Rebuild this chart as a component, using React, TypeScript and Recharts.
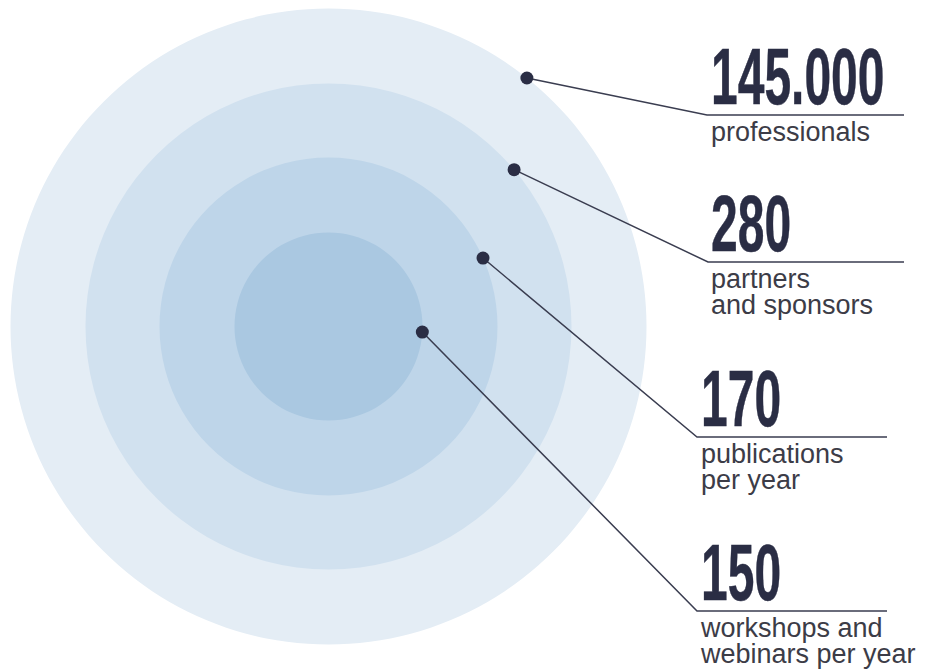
import { PieChart, Pie, Cell } from 'recharts';

const rings = ['Professionals', 'Partners and sponsors', 'Publications', 'Workshops and webinars'];
const ringValues = [1, 1, 1, 1];
const figures = ['145.000', '280', '170', '150'];
const captions = [
  ['professionals'],
  ['partners', 'and sponsors'],
  ['publications', 'per year'],
  ['workshops and', 'webinars per year'],
];

const RING_COLORS = ['#e4edf5', '#d1e1ef', '#bed5e9', '#aac8e1'];
const RADII = [318, 243, 169, 94];
const ANCHOR_ANGLES = [51.4, 40.2, 23.9, -3.4];
// elbow of each leader line, and where its underline stops
const CALLOUTS = [
  { x: 707, y: 115, end: 904, tx: 711 },
  { x: 708, y: 262, end: 904, tx: 711 },
  { x: 697, y: 437, end: 887, tx: 701 },
  { x: 697, y: 611, end: 887, tx: 701 },
];

const CX = 328.5;
const CY = 326.5;
const RAD = Math.PI / 180;
const INK = '#2a2d44';

function renderCallout(i: number, props: any) {
  const cx = typeof props.cx === 'number' ? props.cx : CX;
  const cy = typeof props.cy === 'number' ? props.cy : CY;
  const r = typeof props.outerRadius === 'number' ? props.outerRadius : RADII[i];
  const a = ANCHOR_ANGLES[i];
  const px = cx + r * Math.cos(-a * RAD);
  const py = cy + r * Math.sin(-a * RAD);
  const c = CALLOUTS[i];
  return (
    <g key={`callout-${i}`}>
      <polyline
        points={`${px},${py} ${c.x},${c.y} ${c.end},${c.y}`}
        fill="none"
        stroke="#3a3d50"
        strokeWidth={1.5}
      />
      <circle cx={px} cy={py} r={6.5} fill={INK} />
      <text
        transform={`translate(${c.tx},${c.y - 11}) scale(0.6,1)`}
        fontFamily="Liberation Sans, Arial, sans-serif"
        fontWeight={700}
        fontSize={80}
        fill={INK}
        stroke={INK}
        strokeWidth={0.5}
      >
        {figures[i]}
      </text>
      {captions[i].map((line, j) => (
        <text
          key={j}
          x={c.tx}
          y={c.y + 26 + j * 26}
          fontFamily="Liberation Sans, Arial, sans-serif"
          fontSize={27}
          fill="#3c3c47"
        >
          {line}
        </text>
      ))}
    </g>
  );
}

export default function App() {
  return (
    <div style={{ position: 'absolute', left: 0, top: 0, width: 940, height: 672, background: '#fff' }}>
      <PieChart width={940} height={672} margin={{ top: 0, right: 0, bottom: 0, left: 0 }}>
        {rings.map((name, i) => (
          <Pie
            key={name}
            data={[{ name, value: ringValues[i] }]}
            dataKey="value"
            cx={CX}
            cy={CY}
            innerRadius={0}
            outerRadius={RADII[i]}
            startAngle={0}
            endAngle={360}
            stroke="none"
            label={(p: any) => renderCallout(i, p)}
            labelLine={false}
            isAnimationActive={false}
          >
            <Cell fill={RING_COLORS[i]} />
          </Pie>
        ))}
      </PieChart>
    </div>
  );
}
